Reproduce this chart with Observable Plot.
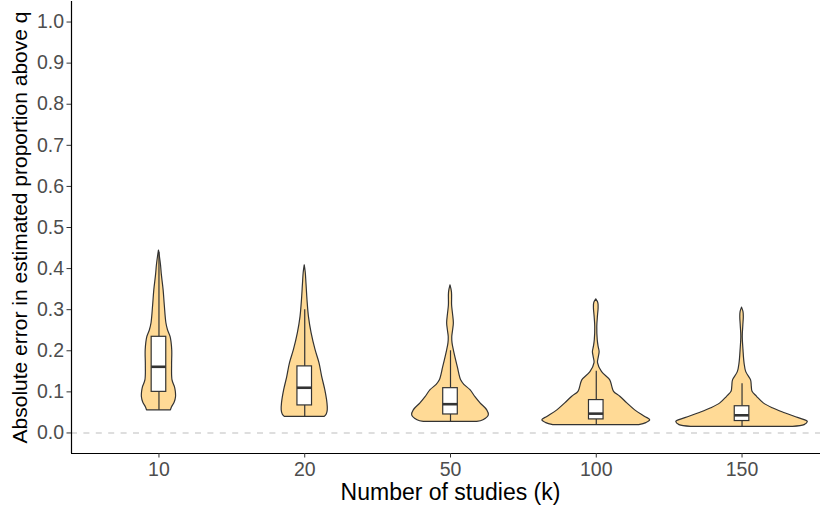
<!DOCTYPE html>
<html>
<head>
<meta charset="utf-8">
<script src="https://cdn.jsdelivr.net/npm/d3@7"></script>
<script src="https://cdn.jsdelivr.net/npm/@observablehq/plot@0.6"></script>
<style>
  html, body { margin: 0; padding: 0; background: #fff; }
  svg { font-family: "Liberation Sans", Arial, sans-serif; }
</style>
</head>
<body>
<div id="chart"></div>
<script>
// Categories (number of studies k)
const kLabels = ["10", "20", "50", "100", "150"];

// Violin density profiles: [y value, half-width in category units]
const violin10 = [[0.055,0.082],[0.062,0.089],[0.074,0.108],[0.087,0.117],[0.099,0.116],[0.111,0.110],[0.128,0.093],[0.165,0.090],[0.201,0.091],[0.233,0.080],[0.250,0.062],[0.267,0.051],[0.310,0.040],[0.347,0.032],[0.384,0.020],[0.408,0.014],[0.430,0.006],[0.444,0.0]];
const violin20 = [[0.039,0.137],[0.045,0.151],[0.055,0.158],[0.072,0.156],[0.104,0.141],[0.136,0.120],[0.170,0.101],[0.202,0.074],[0.243,0.047],[0.282,0.029],[0.323,0.019],[0.363,0.012],[0.390,0.007],[0.408,0.0]];
const violin50 = [[0.027,0.183],[0.031,0.226],[0.043,0.263],[0.055,0.252],[0.072,0.206],[0.087,0.171],[0.104,0.137],[0.117,0.095],[0.128,0.073],[0.160,0.050],[0.201,0.023],[0.218,0.014],[0.233,0.012],[0.250,0.018],[0.267,0.023],[0.290,0.017],[0.310,0.011],[0.342,0.010],[0.359,0.0]];
const violin100 = [[0.019,0.295],[0.024,0.343],[0.031,0.370],[0.039,0.336],[0.055,0.267],[0.072,0.213],[0.088,0.165],[0.100,0.122],[0.112,0.110],[0.128,0.096],[0.148,0.040],[0.170,0.012],[0.185,0.018],[0.197,0.023],[0.210,0.016],[0.226,0.010],[0.258,0.007],[0.286,0.012],[0.303,0.016],[0.316,0.014],[0.325,0.0]];
const violin150 = [[0.015,0.350],[0.019,0.429],[0.027,0.451],[0.036,0.389],[0.048,0.295],[0.060,0.211],[0.072,0.149],[0.088,0.103],[0.100,0.072],[0.112,0.067],[0.128,0.062],[0.148,0.029],[0.170,0.017],[0.201,0.010],[0.234,0.005],[0.262,0.009],[0.282,0.012],[0.294,0.010],[0.305,0.0]];

// Boxplot statistics per category
const lowerWhisker = [0.055, 0.039, 0.027, 0.019, 0.015];
const q1           = [0.100, 0.067, 0.045, 0.033, 0.029];
const median       = [0.161, 0.110, 0.070, 0.047, 0.043];
const q3           = [0.234, 0.162, 0.109, 0.080, 0.065];
const upperWhisker = [0.440, 0.300, 0.200, 0.150, 0.120];

// Y-axis ticks
const yTicks = [0, 0.1, 0.2, 0.3, 0.4, 0.5, 0.6, 0.7, 0.8, 0.9, 1.0];

const xTitle = "Number of studies (k)";
const yTitle = "Absolute error in estimated proportion above q";

// Build tables
const profiles = [violin10, violin20, violin50, violin100, violin150];
const violinRows = profiles.flatMap((p, i) => p.map(([y, w]) => ({k: kLabels[i], pos: i + 1, y, w})));
const boxes = kLabels.map((k, i) => ({k, pos: i + 1, lo: lowerWhisker[i], q1: q1[i], med: median[i], q3: q3[i], hi: upperWhisker[i]}));

const boxHalf = 0.05;
const yDomain = [-0.05, 1.05];
const xDomain = [0.4, 5.6];
const ink = "#333333";

const chart = Plot.plot({
  width: 820,
  height: 512,
  marginLeft: 71,
  marginRight: 0,
  marginTop: 1,
  marginBottom: 59,
  x: {domain: xDomain, range: [71, 829]},
  y: {domain: yDomain, range: [453, 1]},
  style: {fontFamily: "Liberation Sans, Arial, sans-serif", background: "#fff", overflow: "visible"},
  marks: [
    Plot.ruleY([0], {stroke: "#bdbdbd", strokeWidth: 1.1, strokeDasharray: "6,6.4"}),
    Plot.areaX(violinRows, {
      y: "y", x1: d => d.pos - d.w, x2: d => d.pos + d.w, z: "k",
      fill: "#ffda96", stroke: ink, strokeWidth: 1.2, curve: "catmull-rom"
    }),
    Plot.ruleX(boxes, {x: "pos", y1: "lo", y2: "q1", stroke: ink, strokeWidth: 1.2}),
    Plot.ruleX(boxes, {x: "pos", y1: "q3", y2: "hi", stroke: ink, strokeWidth: 1.2}),
    Plot.rect(boxes, {x1: d => d.pos - boxHalf, x2: d => d.pos + boxHalf, y1: "q1", y2: "q3", fill: "white", stroke: ink, strokeWidth: 1.2}),
    Plot.ruleY(boxes, {y: "med", x1: d => d.pos - boxHalf, x2: d => d.pos + boxHalf, stroke: ink, strokeWidth: 2.6}),
    // axis lines
    Plot.ruleX([xDomain[0]], {y1: yDomain[0], y2: yDomain[1], stroke: "black", strokeWidth: 1.2}),
    Plot.ruleY([yDomain[0]], {x1: xDomain[0], x2: xDomain[1], stroke: "black", strokeWidth: 1.2}),
    Plot.axisY({ticks: yTicks, tickFormat: d3.format(".1f"), tickSize: 4.5, tickPadding: 3, stroke: ink, fill: "#4d4d4d", fontSize: 19.5, label: null}),
    Plot.axisX({ticks: [1, 2, 3, 4, 5], tickFormat: d => kLabels[d - 1], tickSize: 4.5, tickPadding: 4, stroke: ink, fill: "#4d4d4d", fontSize: 19.5, label: null}),
    Plot.text([yTitle], {text: d => d, frameAnchor: "left", textAnchor: "middle", rotate: -90, dx: -51, fontSize: 21, fill: "black", lineAnchor: "middle"}),
    Plot.text([xTitle], {text: d => d, frameAnchor: "bottom", textAnchor: "middle", dx: 4.5, dy: 39, fontSize: 23, fill: "black", lineAnchor: "middle"})
  ]
});
document.getElementById("chart").appendChild(chart);
</script>
</body>
</html>
